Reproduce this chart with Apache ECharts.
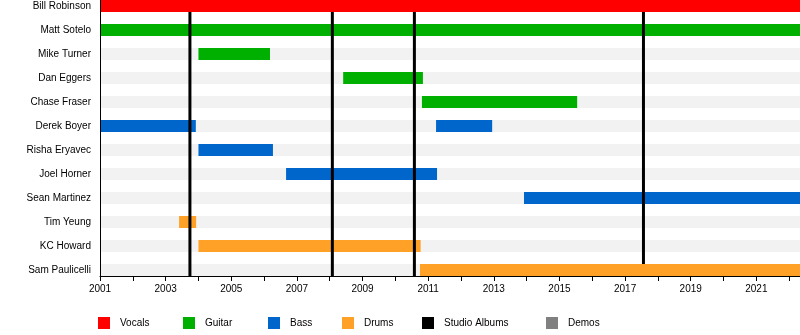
<!DOCTYPE html>
<html>
<head>
<meta charset="utf-8">
<title>Band members timeline</title>
<script src="https://cdn.jsdelivr.net/npm/echarts@6/dist/echarts.min.js"></script>
<style>
  html, body { margin: 0; padding: 0; background: #fff; }
  #chart { width: 800px; height: 335px; }
</style>
</head>
<body>
<div id="chart"></div>
<script>
// Timeline end (decimal year)
const END = 2022.33;

const members = [
  'Bill Robinson', 'Matt Sotelo', 'Mike Turner', 'Dan Eggers', 'Chase Fraser',
  'Derek Boyer', 'Risha Eryavec', 'Joel Horner', 'Sean Martinez', 'Tim Yeung',
  'KC Howard', 'Sam Paulicelli'
];

// [member, from, till] in decimal years
const vocals = [
  ['Bill Robinson', 2001, END]
];
const guitar = [
  ['Matt Sotelo', 2001, END],
  ['Mike Turner', 2004.0, 2006.18],
  ['Dan Eggers', 2008.41, 2010.84],
  ['Chase Fraser', 2010.81, 2015.54]
];
const bass = [
  ['Derek Boyer', 2001, 2003.92],
  ['Derek Boyer', 2011.24, 2012.95],
  ['Risha Eryavec', 2004.0, 2006.27],
  ['Joel Horner', 2006.67, 2011.27],
  ['Sean Martinez', 2013.92, END]
];
const drums = [
  ['Tim Yeung', 2003.41, 2003.93],
  ['KC Howard', 2004.0, 2010.77],
  ['Sam Paulicelli', 2010.75, END]
];
const demos = [];

// Studio album release dates
const studioAlbums = [2003.74, 2008.08, 2010.58, 2017.56];

const tickYears = [2001, 2002, 2003, 2004, 2005, 2006, 2007, 2008, 2009, 2010, 2011,
                   2012, 2013, 2014, 2015, 2016, 2017, 2018, 2019, 2020, 2021, 2022];
const labelYears = [2001, 2003, 2005, 2007, 2009, 2011, 2013, 2015, 2017, 2019, 2021];

const FONT = "'Liberation Sans', Arial, sans-serif";
const COLORS = {
  Vocals: '#ff0000',
  Guitar: '#00b000',
  Bass: '#0066cc',
  Drums: '#ffa126',
  'Studio Albums': '#000000',
  Demos: '#808080'
};

const toRows = list => list.map(([name, from, till]) => [members.indexOf(name), from, till]);

function clip(shape, params) {
  return echarts.graphic.clipRectByRect(shape, {
    x: params.coordSys.x, y: params.coordSys.y,
    width: params.coordSys.width, height: params.coordSys.height
  });
}

// Horizontal bar spanning [from, till] on a member's row
function renderBar(params, api) {
  const row = api.value(0);
  const a = api.coord([api.value(1), row]);
  const b = api.coord([api.value(2), row]);
  const h = api.size([0, 0.5])[1];
  const shape = clip({ x: a[0], y: a[1] - h / 2, width: b[0] - a[0], height: h }, params);
  return shape && { type: 'rect', shape, style: { fill: api.visual('color') } };
}

// Vertical marker for an album between two row positions
function lineRenderer(fromRow, toRow) {
  return function (params, api) {
    const top = api.coord([api.value(0), fromRow]);
    const bottom = api.coord([api.value(0), toRow]);
    return {
      type: 'line',
      shape: { x1: top[0], y1: top[1], x2: bottom[0], y2: bottom[1] },
      style: { stroke: '#000', lineWidth: 3 }
    };
  };
}

function barSeries(name, list) {
  return {
    name, type: 'custom', coordinateSystem: 'cartesian2d', z: 3,
    itemStyle: { color: COLORS[name] },
    renderItem: renderBar, data: toRows(list), silent: true
  };
}

const legendLeft = [98, 183, 268, 342, 422, 546];
const legendNames = ['Vocals', 'Guitar', 'Bass', 'Drums', 'Studio Albums', 'Demos'];

const chart = echarts.init(document.getElementById('chart'), null, { renderer: 'canvas' });
chart.setOption({
  animation: false,
  backgroundColor: '#fff',
  textStyle: { fontFamily: FONT },
  grid: { left: 100, right: 0, top: 0, bottom: 59 },
  legend: legendNames.map((n, i) => ({
    data: [n], left: legendLeft[i], top: 317, padding: 0,
    itemWidth: 12, itemHeight: 12, icon: 'rect', selectedMode: false,
    textStyle: { fontFamily: FONT, fontSize: 10, color: '#000', padding: [0, 0, 0, 5] }
  })),
  xAxis: {
    type: 'value', min: 2001, max: END, z: 10, position: 'bottom',
    splitLine: { show: false },
    axisLine: { show: true, onZero: false, lineStyle: { color: '#000', width: 1 } },
    axisTick: { show: true, length: 5, lineStyle: { color: '#000' }, customValues: tickYears },
    axisLabel: { customValues: labelYears, fontSize: 10, color: '#000', margin: 8, fontFamily: FONT,
                 formatter: v => String(v) }
  },
  yAxis: {
    type: 'value', inverse: true, min: -0.25, max: 11.25, z: 10, position: 'left',
    splitLine: { show: false },
    axisLine: { show: true, onZero: false, lineStyle: { color: '#000', width: 1 } },
    axisTick: { show: false },
    axisLabel: { customValues: members.map((_, i) => i), fontSize: 10, color: '#000', margin: 9,
                 fontFamily: FONT, formatter: v => members[v] }
  },
  series: [
    {
      // light row stripes behind every member
      type: 'custom', coordinateSystem: 'cartesian2d', z: 1, silent: true,
      itemStyle: { color: '#f2f2f2' },
      renderItem: renderBar,
      data: members.map((_, i) => [i, 2001, END])
    },
    {
      // album marker segment on the last row, beneath the bars
      type: 'custom', coordinateSystem: 'cartesian2d', z: 2, silent: true,
      renderItem: lineRenderer(10.75, 11.25),
      data: studioAlbums.map(y => [y])
    },
    barSeries('Vocals', vocals),
    barSeries('Guitar', guitar),
    barSeries('Bass', bass),
    barSeries('Drums', drums),
    {
      name: 'Studio Albums', type: 'custom', coordinateSystem: 'cartesian2d', z: 4, silent: true,
      itemStyle: { color: COLORS['Studio Albums'] },
      renderItem: lineRenderer(0.25, 10.75),
      data: studioAlbums.map(y => [y])
    },
    {
      name: 'Demos', type: 'custom', coordinateSystem: 'cartesian2d', z: 4, silent: true,
      itemStyle: { color: COLORS.Demos },
      renderItem: renderBar, data: toRows(demos)
    }
  ]
});
</script>
</body>
</html>
